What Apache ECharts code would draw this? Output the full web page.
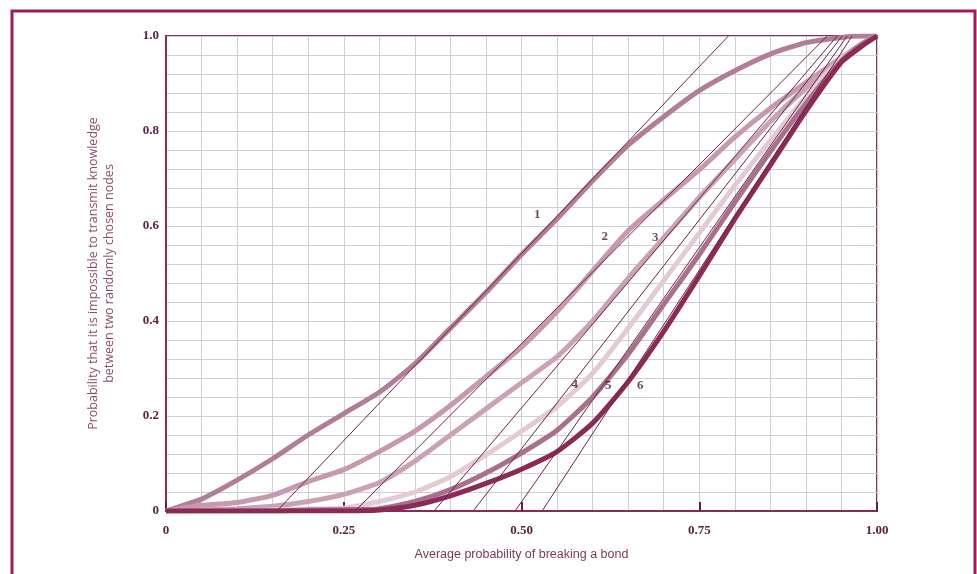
<!DOCTYPE html>
<html>
<head>
<meta charset="utf-8">
<script src="https://cdn.jsdelivr.net/npm/echarts@6/dist/echarts.min.js"></script>
<style>
html,body{margin:0;padding:0;background:#fff;}
#chart{width:977px;height:574px;}
</style>
</head>
<body>
<div id="chart"></div>
<script>
// x positions (average probability of breaking a bond)
const xs = [0, 0.02, 0.05, 0.1, 0.15, 0.2, 0.25, 0.3, 0.35, 0.4, 0.45, 0.5, 0.55, 0.6, 0.65, 0.7, 0.75, 0.8, 0.85, 0.9, 0.95, 0.98, 1.0];
// stepped curves 1..6 (probability that transmission is impossible)
const curve1 = [0, 0.01, 0.025, 0.065, 0.11, 0.16, 0.205, 0.25, 0.31, 0.385, 0.46, 0.54, 0.615, 0.695, 0.77, 0.83, 0.885, 0.927, 0.962, 0.986, 0.997, 1.0, 1.0];
const curve2 = [0, 0.005, 0.012, 0.018, 0.033, 0.062, 0.087, 0.125, 0.168, 0.222, 0.283, 0.345, 0.42, 0.505, 0.59, 0.655, 0.718, 0.787, 0.848, 0.902, 0.955, 0.985, 1.0];
const curve3 = [0, 0, 0.002, 0.005, 0.01, 0.02, 0.035, 0.06, 0.105, 0.16, 0.215, 0.27, 0.325, 0.4, 0.49, 0.575, 0.66, 0.74, 0.82, 0.89, 0.95, 0.985, 1.0];
const curve4 = [0, 0, 0, 0, 0.002, 0.004, 0.006, 0.02, 0.04, 0.072, 0.118, 0.168, 0.22, 0.29, 0.385, 0.485, 0.585, 0.685, 0.78, 0.872, 0.953, 0.985, 1.0];
const curve5 = [0, 0, 0, 0, 0, 0.002, 0.003, 0.005, 0.02, 0.045, 0.08, 0.122, 0.17, 0.24, 0.33, 0.435, 0.54, 0.65, 0.757, 0.858, 0.948, 0.984, 1.0];
const curve6 = [0, 0, 0, 0, 0, 0, 0, 0.002, 0.012, 0.032, 0.058, 0.088, 0.125, 0.185, 0.272, 0.378, 0.495, 0.615, 0.728, 0.842, 0.945, 0.98, 1.0];
// asymptotic straight lines: x where they cross 0 and x where they reach 1
const tangentStart = [0.156, 0.266, 0.377, 0.432, 0.491, 0.529];
const tangentEnd = [0.791, 0.930, 0.944, 0.951, 0.958, 0.965];
// curve number labels
const labelText = ['1', '2', '3', '4', '5', '6'];
const labelX = [0.522, 0.617, 0.688, 0.575, 0.622, 0.667];
const labelY = [0.623, 0.577, 0.575, 0.267, 0.263, 0.263];

const curves = [curve1, curve2, curve3, curve4, curve5, curve6];
const curveColors = ['#b27d97', '#c699ae', '#c9a3b5', '#e2cbd5', '#a8708c', '#8a2a55'];

const series = [];
curves.forEach((c, i) => {
  series.push({
    type: 'line', name: 'curve' + (i + 1),
    data: xs.map((x, j) => [x, c[j]]),
    showSymbol: false, smooth: 0.2,
    lineStyle: { color: curveColors[i], width: 5 },
    z: 2 + (i === 5 ? 1 : 0), silent: true
  });
});
tangentStart.forEach((s, i) => {
  series.push({
    type: 'line', name: 'line' + (i + 1),
    data: [[s, 0], [tangentEnd[i], 1]],
    showSymbol: false,
    lineStyle: { color: '#6e2446', width: 1 },
    z: 5, silent: true
  });
});
series.push({
  type: 'scatter', name: 'labels',
  data: labelX.map((x, i) => [x, labelY[i], labelText[i]]),
  symbolSize: 0,
  label: {
    show: true, position: 'inside',
    formatter: p => p.data[2],
    fontFamily: 'Liberation Serif', fontWeight: 'bold', fontSize: 13, color: '#4a1a33'
  },
  z: 6, silent: true
});

const chart = echarts.init(document.getElementById('chart'));
chart.setOption({
  animation: false,
  backgroundColor: '#fff',
  grid: { left: 166, right: 100, top: 36, bottom: 63, show: true, borderColor: '#8b2a55', borderWidth: 2 },
  xAxis: [{
    type: 'value', min: 0, max: 1, interval: 0.05,
    axisLine: { show: true, lineStyle: { color: '#8b2a55', width: 2 } },
    axisTick: { show: false },
    splitLine: { show: true, lineStyle: { color: '#cfcfcf', width: 1 } },
    axisLabel: {
      margin: 13, fontFamily: 'Liberation Serif', fontWeight: 'bold', fontSize: 13, color: '#5c2140',
      formatter: v => { const r = Math.round(v * 100) / 100; if (Math.abs(r * 4 - Math.round(r * 4)) > 1e-6) return ''; return r === 0 ? '0' : r.toFixed(2); }
    },
    name: 'Average probability of breaking a bond', nameLocation: 'middle', nameGap: 37,
    nameTextStyle: { fontFamily: 'Liberation Sans', fontSize: 12.5, color: '#7a3a58' }
  }, {
    type: 'value', min: 0, max: 1, interval: 0.25, position: 'bottom',
    axisLine: { show: false }, splitLine: { show: false },
    axisLabel: { show: false },
    axisTick: { show: true, inside: true, length: 9, lineStyle: { color: '#5c2140', width: 2 } }
  }],
  yAxis: {
    type: 'value', min: 0, max: 1, interval: 0.04,
    axisLine: { show: true, lineStyle: { color: '#8b2a55', width: 2 } },
    axisTick: { show: false },
    splitLine: { show: true, lineStyle: { color: '#cfcfcf', width: 1 } },
    axisLabel: {
      margin: 7, fontFamily: 'Liberation Serif', fontWeight: 'bold', fontSize: 13, color: '#5c2140',
      formatter: v => { const r = Math.round(v * 100) / 100; if (Math.abs(r * 5 - Math.round(r * 5)) > 1e-6) return ''; return r === 0 ? '0' : r.toFixed(1); }
    },
    name: 'Probability that it is impossible to transmit knowledge\nbetween two randomly chosen nodes',
    nameLocation: 'middle', nameRotate: 90, nameGap: 49,
    nameTextStyle: { fontFamily: 'Open Sans', fontSize: 12.5, color: '#8d4a6b', lineHeight: 16, align: 'center' }
  },
  graphic: [{
    type: 'rect', shape: { x: 12, y: 11, width: 963, height: 600 },
    style: { fill: 'none', stroke: '#a3195b', lineWidth: 3 }, silent: true, z: 10
  }],
  series: series
});
</script>
</body>
</html>
